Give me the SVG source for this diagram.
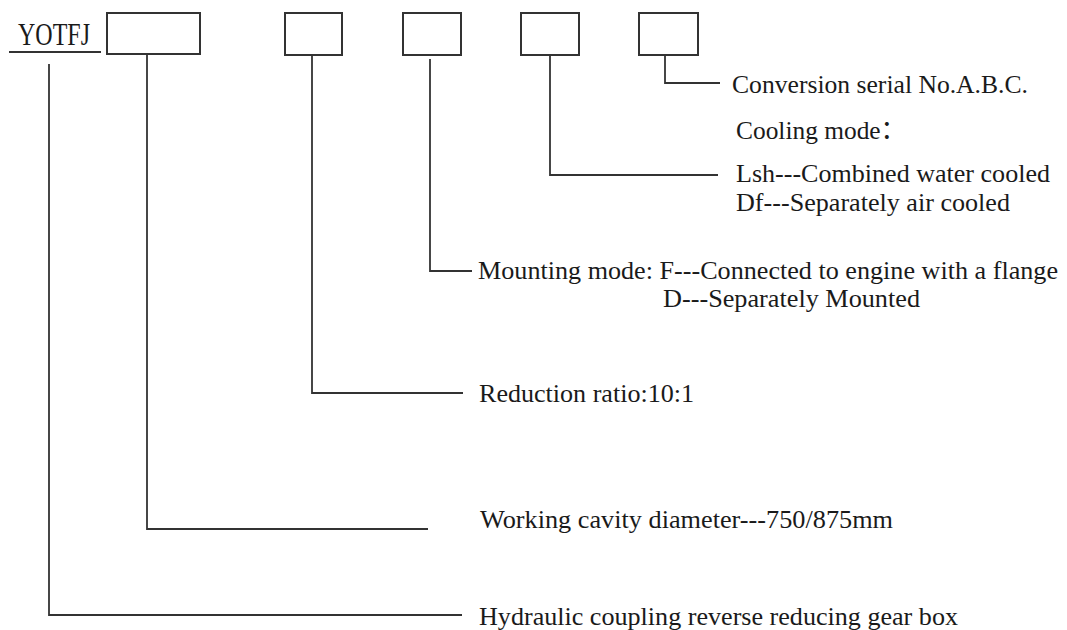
<svg xmlns="http://www.w3.org/2000/svg" width="1067" height="630" viewBox="0 0 1067 630">
  <style>
    .box { fill: #ffffff; stroke: #333333; stroke-width: 2; }
    .lead { fill: none; stroke: #333333; stroke-width: 1.8; }
    .label { font-family: "Liberation Serif", "Times New Roman", "Noto Sans CJK SC", serif; font-size: 26px; fill: #1a1a1a; }
    .code { font-family: "Liberation Serif", "Times New Roman", serif; font-size: 32px; fill: #1a1a1a; }
  </style>
  <rect width="1067" height="630" fill="#ffffff"/>

  <!-- model prefix with underline -->
  <g id="prefix">
    <text class="code" x="18" y="45" textLength="72" lengthAdjust="spacingAndGlyphs">YOTFJ</text>
    <line class="lead" x1="9" y1="52" x2="101" y2="52"/>
  </g>

  <!-- code position boxes -->
  <g id="box-diameter"><rect class="box" x="107" y="13" width="93" height="41"/></g>
  <g id="box-ratio"><rect class="box" x="285" y="13" width="57" height="42"/></g>
  <g id="box-mounting"><rect class="box" x="403" y="13" width="58" height="42"/></g>
  <g id="box-cooling"><rect class="box" x="521" y="13" width="58" height="42"/></g>
  <g id="box-serial"><rect class="box" x="639" y="13" width="59" height="42"/></g>

  <!-- leader lines from each position to its description -->
  <g id="connectors">
    <polyline class="lead" points="49,64 49,615 462,615"/>
    <polyline class="lead" points="147,55 147,529 428,529"/>
    <polyline class="lead" points="312,55 312,393 463,393"/>
    <polyline class="lead" points="430,59 430,271 472,271"/>
    <polyline class="lead" points="550,55 550,175 718,175"/>
    <polyline class="lead" points="665,55 665,83 720,83"/>
  </g>

  <!-- descriptions -->
  <g id="label-serial">
    <text class="label" x="732" y="93" textLength="296" lengthAdjust="spacingAndGlyphs">Conversion serial No.A.B.C.</text>
  </g>
  <g id="label-cooling">
    <text class="label" x="736" y="139" textLength="170" lengthAdjust="spacingAndGlyphs">Cooling mode：</text>
    <text class="label" x="736" y="182" textLength="314" lengthAdjust="spacingAndGlyphs">Lsh---Combined water cooled</text>
    <text class="label" x="736" y="211" textLength="274" lengthAdjust="spacingAndGlyphs">Df---Separately air cooled</text>
  </g>
  <g id="label-mounting">
    <text class="label" x="478" y="279" textLength="580" lengthAdjust="spacingAndGlyphs">Mounting mode: F---Connected to engine with a flange</text>
    <text class="label" x="663" y="307" textLength="257" lengthAdjust="spacingAndGlyphs">D---Separately Mounted</text>
  </g>
  <g id="label-ratio">
    <text class="label" x="479" y="402" textLength="215" lengthAdjust="spacingAndGlyphs">Reduction ratio:10:1</text>
  </g>
  <g id="label-diameter">
    <text class="label" x="480" y="528" textLength="413" lengthAdjust="spacingAndGlyphs">Working cavity diameter---750/875mm</text>
  </g>
  <g id="label-type">
    <text class="label" x="479" y="625" textLength="479" lengthAdjust="spacingAndGlyphs">Hydraulic coupling reverse reducing gear box</text>
  </g>
</svg>
